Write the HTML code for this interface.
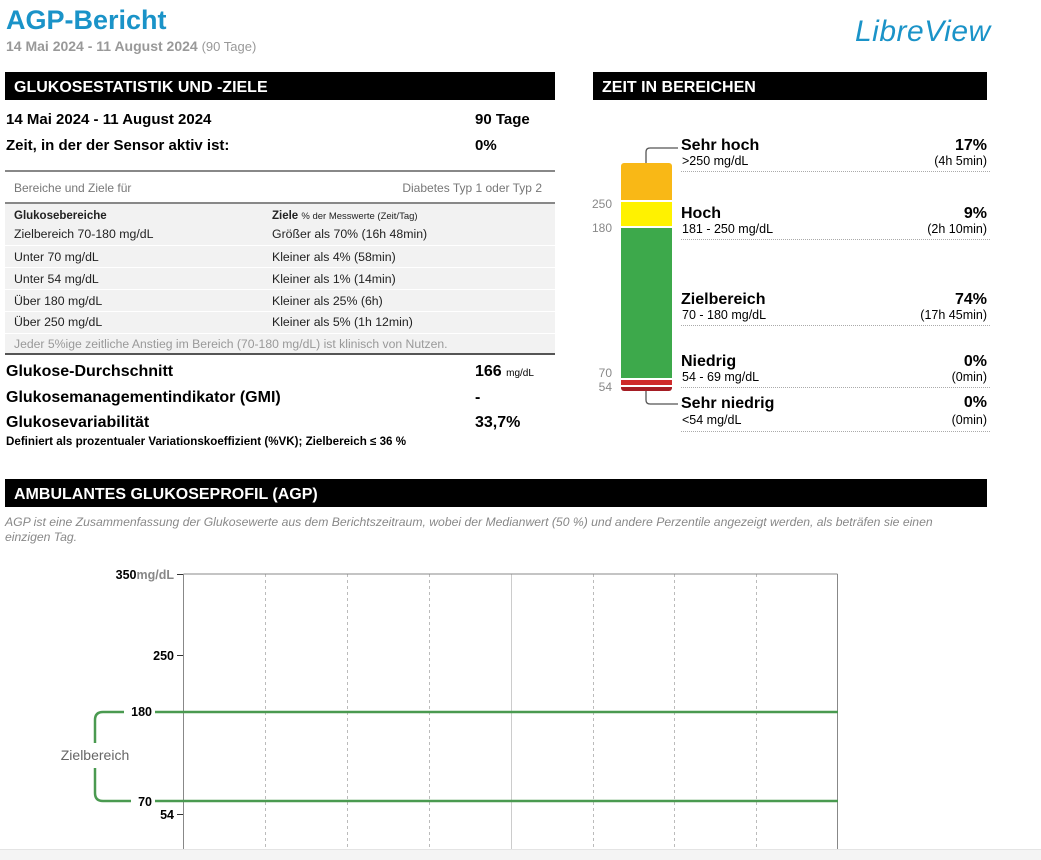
<!DOCTYPE html>
<html><head><meta charset="utf-8"><style>
*{margin:0;padding:0;box-sizing:border-box}
body{width:1041px;height:860px;background:#fff;font-family:"Liberation Sans",Arial,sans-serif;position:relative;overflow:hidden;color:#000}
.a{position:absolute;white-space:nowrap}
.bar{position:absolute;background:#000;color:#fff;font-weight:bold;font-size:16px;padding-left:9px;padding-top:2px;line-height:28px;height:28px}
.r{text-align:right}
.dot{position:absolute;border-top:1px dotted #aaa;height:0}
.t{font-size:12px;color:#222}
</style></head><body>
<div class="a" style="left:6px;top:5px;font-size:27px;font-weight:bold;color:#1a93c8">AGP-Bericht</div>
<div class="a" style="left:6px;top:38px;font-size:14px;font-weight:bold;color:#999">14 Mai 2024 - 11 August 2024 <span style="font-weight:normal;font-size:13px">(90 Tage)</span></div>
<div class="a" style="left:855px;top:15px;font-size:30px;font-style:italic;color:#1a93c8;letter-spacing:0.5px">LibreView</div>

<div class="bar" style="left:5px;top:72px;width:550px">GLUKOSESTATISTIK UND -ZIELE</div>
<div class="bar" style="left:593px;top:72px;width:394px">ZEIT IN BEREICHEN</div>

<div class="a" style="left:6px;top:111px;font-size:15px;font-weight:bold">14 Mai 2024 - 11 August 2024</div>
<div class="a" style="left:475px;top:111px;font-size:15px;font-weight:bold">90 Tage</div>
<div class="a" style="left:6px;top:137px;font-size:15px;font-weight:bold">Zeit, in der der Sensor aktiv ist:</div>
<div class="a" style="left:475px;top:137px;font-size:15px;font-weight:bold">0%</div>
<div class="a" style="left:5px;top:170px;width:550px;height:2px;background:#888"></div>
<div class="a" style="left:14px;top:181px;font-size:12px;color:#777">Bereiche und Ziele für</div>
<div class="a r" style="left:300px;width:242px;top:181px;font-size:12px;color:#777">Diabetes Typ 1 oder Typ 2</div>
<div class="a" style="left:5px;top:202px;width:550px;height:153px;background:#f2f2f2;border-top:2px solid #888;border-bottom:2px solid #555"></div>
<div class="a" style="left:5px;top:245px;width:550px;height:1px;background:#fff"></div>
<div class="a" style="left:5px;top:267px;width:550px;height:1px;background:#fff"></div>
<div class="a" style="left:5px;top:289px;width:550px;height:1px;background:#fff"></div>
<div class="a" style="left:5px;top:311px;width:550px;height:1px;background:#fff"></div>
<div class="a" style="left:5px;top:333px;width:550px;height:1px;background:#fff"></div>
<div class="a t" style="left:14px;top:210px;font-size:11.5px;font-weight:bold">Glukosebereiche</div>
<div class="a t" style="left:272px;top:210px;font-size:11.5px;font-weight:bold">Ziele <span style="font-weight:normal;font-size:9.5px">% der Messwerte (Zeit/Tag)</span></div>
<div class="a t" style="left:14px;top:227px;font-size:12.3px">Zielbereich 70-180 mg/dL</div>
<div class="a t" style="left:272px;top:227px;font-size:12.3px">Größer als 70% (16h 48min)</div>
<div class="a t" style="left:14px;top:250px;font-size:12.3px">Unter 70 mg/dL</div>
<div class="a t" style="left:272px;top:250px;font-size:12.3px">Kleiner als 4% (58min)</div>
<div class="a t" style="left:14px;top:272px;font-size:12.3px">Unter 54 mg/dL</div>
<div class="a t" style="left:272px;top:272px;font-size:12.3px">Kleiner als 1% (14min)</div>
<div class="a t" style="left:14px;top:294px;font-size:12.3px">Über 180 mg/dL</div>
<div class="a t" style="left:272px;top:294px;font-size:12.3px">Kleiner als 25% (6h)</div>
<div class="a t" style="left:14px;top:315px;font-size:12.3px">Über 250 mg/dL</div>
<div class="a t" style="left:272px;top:315px;font-size:12.3px">Kleiner als 5% (1h 12min)</div>
<div class="a" style="left:14px;top:337px;font-size:12.2px;color:#999">Jeder 5%ige zeitliche Anstieg im Bereich (70-180 mg/dL) ist klinisch von Nutzen.</div>

<div class="a" style="left:6px;top:363px;font-size:16px;font-weight:bold">Glukose-Durchschnitt</div>
<div class="a" style="left:475px;top:363px;font-size:16px;font-weight:bold">166 <span style="font-size:10px;font-weight:normal">mg/dL</span></div>
<div class="a" style="left:6px;top:389px;font-size:16px;font-weight:bold">Glukosemanagementindikator (GMI)</div>
<div class="a" style="left:475px;top:389px;font-size:16px;font-weight:bold">-</div>
<div class="a" style="left:6px;top:414px;font-size:16px;font-weight:bold">Glukosevariabilität</div>
<div class="a" style="left:475px;top:414px;font-size:16px;font-weight:bold">33,7%</div>
<div class="a" style="left:6px;top:435px;font-size:11.6px;font-weight:bold">Definiert als prozentualer Variationskoeffizient (%VK); Zielbereich ≤ 36 %</div>

<!-- TIR bar -->
<div class="a" style="left:621px;top:163px;width:51px;height:37px;background:#f9b816;border-radius:3px 3px 0 0"></div>
<div class="a" style="left:621px;top:202px;width:51px;height:24px;background:#fff200"></div>
<div class="a" style="left:621px;top:228px;width:51px;height:150px;background:#3da94b"></div>
<div class="a" style="left:621px;top:380px;width:51px;height:5px;background:#cf2a2a"></div>
<div class="a" style="left:621px;top:387px;width:51px;height:4px;background:#a51d24;border-radius:0 0 3px 3px"></div>
<div class="a r" style="left:580px;width:32px;top:197px;font-size:12px;color:#888">250</div>
<div class="a r" style="left:580px;width:32px;top:221px;font-size:12px;color:#888">180</div>
<div class="a r" style="left:580px;width:32px;top:366px;font-size:12px;color:#888">70</div>
<div class="a r" style="left:580px;width:32px;top:380px;font-size:12px;color:#888">54</div>
<svg class="a" style="left:0;top:0" width="1041" height="860"><path d="M646 163 V152 Q646 148 650 148 H678" stroke="#555" fill="none" stroke-width="1.3"/><path d="M646 391 V400 Q646 404 650 404 H678" stroke="#555" fill="none" stroke-width="1.3"/></svg>

<div class="a" style="left:681px;top:137px;font-size:16px;font-weight:bold">Sehr hoch</div>
<div class="a" style="left:682px;top:154px;font-size:12.5px">&gt;250 mg/dL</div>
<div class="a r" style="left:880px;width:107px;top:137px;font-size:16px;font-weight:bold">17%</div>
<div class="a r" style="left:880px;width:107px;top:154px;font-size:12.5px">(4h 5min)</div>
<div class="dot" style="left:681px;width:309px;top:171px"></div>

<div class="a" style="left:681px;top:205px;font-size:16px;font-weight:bold">Hoch</div>
<div class="a" style="left:682px;top:222px;font-size:12.5px">181 - 250 mg/dL</div>
<div class="a r" style="left:880px;width:107px;top:205px;font-size:16px;font-weight:bold">9%</div>
<div class="a r" style="left:880px;width:107px;top:222px;font-size:12.5px">(2h 10min)</div>
<div class="dot" style="left:681px;width:309px;top:239px"></div>

<div class="a" style="left:681px;top:291px;font-size:16px;font-weight:bold">Zielbereich</div>
<div class="a" style="left:682px;top:308px;font-size:12.5px">70 - 180 mg/dL</div>
<div class="a r" style="left:880px;width:107px;top:291px;font-size:16px;font-weight:bold">74%</div>
<div class="a r" style="left:880px;width:107px;top:308px;font-size:12.5px">(17h 45min)</div>
<div class="dot" style="left:681px;width:309px;top:325px"></div>

<div class="a" style="left:681px;top:353px;font-size:16px;font-weight:bold">Niedrig</div>
<div class="a" style="left:682px;top:370px;font-size:12.5px">54 - 69 mg/dL</div>
<div class="a r" style="left:880px;width:107px;top:353px;font-size:16px;font-weight:bold">0%</div>
<div class="a r" style="left:880px;width:107px;top:370px;font-size:12.5px">(0min)</div>
<div class="dot" style="left:681px;width:309px;top:387px"></div>

<div class="a" style="left:681px;top:395px;font-size:16px;font-weight:bold">Sehr niedrig</div>
<div class="a" style="left:682px;top:413px;font-size:12.5px">&lt;54 mg/dL</div>
<div class="a r" style="left:880px;width:107px;top:394px;font-size:16px;font-weight:bold">0%</div>
<div class="a r" style="left:880px;width:107px;top:413px;font-size:12.5px">(0min)</div>
<div class="dot" style="left:681px;width:309px;top:431px"></div>

<div class="bar" style="left:5px;top:479px;width:982px">AMBULANTES GLUKOSEPROFIL (AGP)</div>
<div class="a" style="left:5px;top:515px;font-size:12.2px;font-style:italic;color:#888;line-height:15px">AGP ist eine Zusammenfassung der Glukosewerte aus dem Berichtszeitraum, wobei der Medianwert (50 %) und andere Perzentile angezeigt werden, als beträfen sie einen<br>einzigen Tag.</div>

<svg class="a" style="left:0;top:0" width="1041" height="860" font-family="Liberation Sans, Arial, sans-serif">
<g stroke="#bbb" stroke-dasharray="3,3" stroke-width="1">
<line x1="265.5" y1="574" x2="265.5" y2="850"/><line x1="347.5" y1="574" x2="347.5" y2="850"/><line x1="429.5" y1="574" x2="429.5" y2="850"/>
<line x1="593.5" y1="574" x2="593.5" y2="850"/><line x1="674.5" y1="574" x2="674.5" y2="850"/><line x1="756.5" y1="574" x2="756.5" y2="850"/>
</g>
<line x1="511.5" y1="574" x2="511.5" y2="850" stroke="#ccc"/>
<line x1="183.5" y1="574" x2="837.5" y2="574" stroke="#888"/>
<line x1="183.5" y1="574" x2="183.5" y2="850" stroke="#888"/>
<line x1="837.5" y1="574" x2="837.5" y2="850" stroke="#888"/>
<g stroke="#333"><line x1="177" y1="574.5" x2="183" y2="574.5"/><line x1="177" y1="655.5" x2="183" y2="655.5"/><line x1="177" y1="814.5" x2="183" y2="814.5"/></g>
<g stroke="#4a9a50" stroke-width="2.5" fill="none">
<line x1="155" y1="712" x2="838" y2="712"/><line x1="155" y1="801" x2="838" y2="801"/>
<path d="M124 712 H103 Q95 712 95 720 V743"/><path d="M95 768 V793 Q95 801 103 801 H131"/>
</g>
<g font-size="12.5" font-weight="bold" text-anchor="end" fill="#000">
<text x="174" y="579">350<tspan fill="#888">mg/dL</tspan></text>
<text x="174" y="660">250</text>
<text x="152" y="716">180</text>
<text x="152" y="806">70</text>
<text x="174" y="819">54</text>
</g>
<text x="95" y="760" font-size="14" fill="#666" text-anchor="middle">Zielbereich</text>
</svg>
<div class="a" style="left:0;top:849px;width:1041px;height:11px;background:#f4f4f4;border-top:1px solid #e4e4e4"></div>
</body></html>
